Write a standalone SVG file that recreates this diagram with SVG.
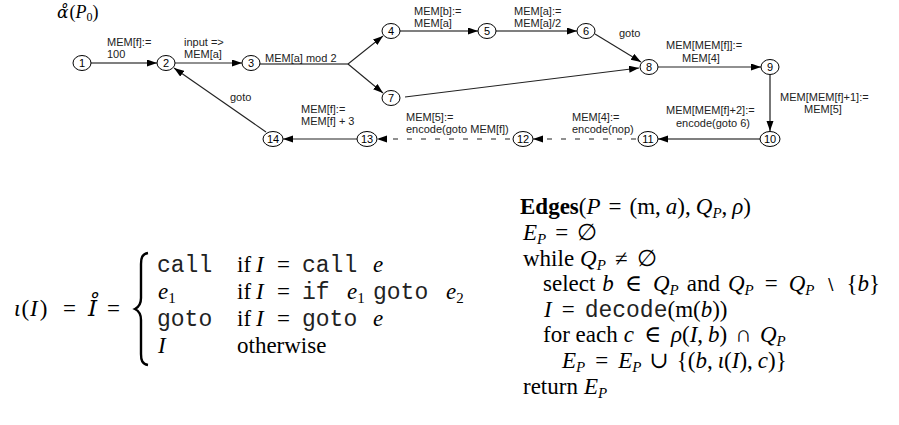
<svg xmlns="http://www.w3.org/2000/svg" width="899" height="425" viewBox="0 0 899 425">
<defs>
<marker id="ah" markerUnits="userSpaceOnUse" markerWidth="11" markerHeight="8" refX="10" refY="3.5" orient="auto">
<path d="M0,0 L10,3.5 L0,7 z" fill="#000"/>
</marker>
<style>
.e{fill:none;stroke:#222;stroke-width:1.1;marker-end:url(#ah)}
.g{stroke:#555;stroke-width:1.6}
.d{stroke-dasharray:5 9}
.n ellipse{fill:#fff;stroke:#000;stroke-width:1}
.n text{font-family:"Liberation Sans",Arial,sans-serif;font-size:11px;text-anchor:middle;fill:#000}
.lb{font-family:"Liberation Sans",Arial,sans-serif;font-size:11px;fill:#222}
.m{font-family:"Liberation Serif","DejaVu Serif",serif;font-size:23px;fill:#000}
.i{font-style:italic}
.dv{font-family:"DejaVu Serif",serif}
.tt{font-family:"Liberation Mono","DejaVu Sans Mono",monospace;fill:#222}
.sb{font-size:15px}
</style>
</defs>
<rect width="899" height="425" fill="#fff"/>

<text class="m" x="57" y="18" style="font-size:18px"><tspan class="i dv" style="font-size:17px">α&#x30A;</tspan><tspan dx="1">(</tspan><tspan class="i">P</tspan><tspan style="font-size:12px" dy="3">0</tspan><tspan dy="-3">)</tspan></text>

<g id="connectors">
<path class="e g" d="M91,63 H157"/>
<path class="e" d="M175,63 H242"/>
<path class="e g" d="M260,64 H348" style="marker-end:none"/>
<path class="e" d="M348,64 L383,36"/>
<path class="e" d="M348,64 L383,93"/>
<path class="e g" d="M400,31 H478"/>
<path class="e g" d="M496,31 H577"/>
<path class="e" d="M595,34 L641,62"/>
<path class="e" d="M405,97 L639,68"/>
<path class="e" d="M658,67 H761"/>
<path class="e g" d="M770,75 V131"/>
<path class="e g" d="M760,139 H658"/>
<path class="e d" d="M636,139 H533"/>
<path class="e d" d="M510,139 H377"/>
<path class="e" d="M357,139 H283"/>
<path class="e" d="M266,132 L174,68"/>
<text class="lb" x="107" y="46">MEM[f]:=</text>
<text class="lb" x="107" y="58">100</text>
<text class="lb" x="184" y="46">input =&gt;</text>
<text class="lb" x="184" y="58">MEM[a]</text>
<text class="lb" x="265" y="62">MEM[a] mod 2</text>
<text class="lb" x="414" y="15">MEM[b]:=</text>
<text class="lb" x="414" y="27">MEM[a]</text>
<text class="lb" x="514" y="15">MEM[a]:=</text>
<text class="lb" x="514" y="27">MEM[a]/2</text>
<text class="lb" x="619" y="37">goto</text>
<text class="lb" x="666" y="49">MEM[MEM[f]]:=</text>
<text class="lb" x="682" y="62">MEM[4]</text>
<text class="lb" x="780" y="101">MEM[MEM[f]+1]:=</text>
<text class="lb" x="804" y="113">MEM[5]</text>
<text class="lb" x="666" y="114">MEM[MEM[f]+2]:=</text>
<text class="lb" x="676" y="127">encode(goto 6)</text>
<text class="lb" x="572" y="121">MEM[4]:=</text>
<text class="lb" x="572" y="133">encode(nop)</text>
<text class="lb" x="406" y="121">MEM[5]:=</text>
<text class="lb" x="406" y="133">encode(goto MEM[f])</text>
<text class="lb" x="301" y="113">MEM[f]:=</text>
<text class="lb" x="301" y="125">MEM[f] + 3</text>
<text class="lb" x="230" y="101">goto</text>
</g>

<g id="n1" class="n"><ellipse cx="82" cy="63" rx="9" ry="7.5"/><text x="82" y="67">1</text></g>
<g id="n2" class="n"><ellipse cx="166" cy="63" rx="9" ry="7.5"/><text x="166" y="67">2</text></g>
<g id="n3" class="n"><ellipse cx="251" cy="63" rx="9" ry="7.5"/><text x="251" y="67">3</text></g>
<g id="n4" class="n"><ellipse cx="391" cy="31" rx="9" ry="7.5"/><text x="391" y="35">4</text></g>
<g id="n5" class="n"><ellipse cx="487" cy="31" rx="9" ry="7.5"/><text x="487" y="35">5</text></g>
<g id="n6" class="n"><ellipse cx="586" cy="31" rx="9" ry="7.5"/><text x="586" y="35">6</text></g>
<g id="n7" class="n"><ellipse cx="391" cy="98" rx="9" ry="7.5"/><text x="391" y="102">7</text></g>
<g id="n8" class="n"><ellipse cx="649" cy="67" rx="9" ry="7.5"/><text x="649" y="71">8</text></g>
<g id="n9" class="n"><ellipse cx="770" cy="67" rx="9" ry="7.5"/><text x="770" y="71">9</text></g>
<g id="n10" class="n"><ellipse cx="770" cy="139" rx="10" ry="7.5"/><text x="770" y="143">10</text></g>
<g id="n11" class="n"><ellipse cx="648" cy="139" rx="10" ry="7.5"/><text x="648" y="143">11</text></g>
<g id="n12" class="n"><ellipse cx="523" cy="139" rx="10" ry="7.5"/><text x="523" y="143">12</text></g>
<g id="n13" class="n"><ellipse cx="367" cy="139" rx="10" ry="7.5"/><text x="367" y="143">13</text></g>
<g id="n14" class="n"><ellipse cx="273" cy="139" rx="10" ry="7.5"/><text x="273" y="143">14</text></g>

<g id="iota-def">
<text class="m" y="316"><tspan class="i" x="14">ι</tspan><tspan dx="1">(</tspan><tspan class="i" dx="1">I</tspan><tspan dx="2">)</tspan><tspan x="63">=</tspan><tspan class="i dv" x="88">I&#x30A;</tspan><tspan x="107">=</tspan></text>
<path d="M148,253 C142,254 141,258 141,264 L141,298 C141,304 139,307 135,309 C139,311 141,314 141,320 L141,354 C141,360 142,364 148,365" fill="none" stroke="#000" stroke-width="2.4"/>
<text class="m" y="272"><tspan class="tt" x="157">call</tspan><tspan x="237">if</tspan><tspan class="i" x="256">I</tspan><tspan x="277">=</tspan><tspan class="tt" x="302">call</tspan><tspan class="i" x="373">e</tspan></text>
<text class="m" y="299"><tspan class="i" x="158">e</tspan><tspan class="sb" dy="4">1</tspan><tspan x="237" dy="-4">if</tspan><tspan class="i" x="256">I</tspan><tspan x="277">=</tspan><tspan class="tt" x="302">if</tspan><tspan class="i" x="347">e</tspan><tspan class="sb" dy="4">1</tspan><tspan class="tt" x="373" dy="-4">goto</tspan><tspan class="i" x="446">e</tspan><tspan class="sb" dy="4">2</tspan></text>
<text class="m" y="326"><tspan class="tt" x="157">goto</tspan><tspan x="237">if</tspan><tspan class="i" x="256">I</tspan><tspan x="277">=</tspan><tspan class="tt" x="302">goto</tspan><tspan class="i" x="373">e</tspan></text>
<text class="m" y="353"><tspan class="i" x="158">I</tspan><tspan x="237">otherwise</tspan></text>
</g>

<g id="edges-algo">
<text class="m" x="520" y="214"><tspan font-weight="bold">Edges</tspan>(<tspan class="i">P</tspan><tspan dx="8">=</tspan><tspan dx="8">(m,</tspan><tspan dx="5" class="i">a</tspan>),<tspan dx="5" class="i">Q</tspan><tspan class="sb i" dy="4">P</tspan><tspan dy="-4">,</tspan><tspan dx="5" class="i">ρ</tspan>)</text>
<text class="m" x="523" y="240"><tspan class="i">E</tspan><tspan class="sb i" dy="4">P</tspan><tspan dx="9" dy="-4">=</tspan><tspan dx="9">∅</tspan></text>
<text class="m" x="523" y="266">while<tspan dx="6" class="i">Q</tspan><tspan class="sb i" dy="4">P</tspan><tspan dx="9" dy="-4">≠</tspan><tspan dx="9">∅</tspan></text>
<text class="m" x="543" y="291">select<tspan dx="7" class="i">b</tspan><tspan dx="11">∈</tspan><tspan dx="11" class="i">Q</tspan><tspan class="sb i" dy="4">P</tspan><tspan dx="8" dy="-4">and</tspan><tspan dx="8" class="i">Q</tspan><tspan class="sb i" dy="4">P</tspan><tspan dx="11" dy="-4">=</tspan><tspan dx="11" class="i">Q</tspan><tspan class="sb i" dy="4">P</tspan><tspan dx="11" dy="-4" style="font-size:16px;font-weight:300">∖</tspan><tspan dx="11">{</tspan><tspan class="i">b</tspan>}</text>
<text class="m" x="544" y="317"><tspan class="i">I</tspan><tspan dx="10">=</tspan><tspan dx="10" class="tt">decode</tspan>(m(<tspan class="i">b</tspan>))</text>
<text class="m" x="543" y="342">for each<tspan dx="6" class="i">c</tspan><tspan dx="10">∈</tspan><tspan dx="10" class="i">ρ</tspan>(<tspan class="i">I</tspan>,<tspan dx="5" class="i">b</tspan>)<tspan dx="8">∩</tspan><tspan dx="8" class="i">Q</tspan><tspan class="sb i" dy="4">P</tspan></text>
<text class="m" x="562" y="368"><tspan class="i">E</tspan><tspan class="sb i" dy="4">P</tspan><tspan dx="10" dy="-4">=</tspan><tspan dx="10" class="i">E</tspan><tspan class="sb i" dy="4">P</tspan><tspan dx="8" dy="-4">∪</tspan><tspan dx="8">{(</tspan><tspan class="i">b</tspan>,<tspan dx="5" class="i">ι</tspan>(<tspan class="i">I</tspan>),<tspan dx="5" class="i">c</tspan>)}</text>
<text class="m" x="523" y="394">return<tspan dx="6" class="i">E</tspan><tspan class="sb i" dy="4">P</tspan></text>
</g>
</svg>
